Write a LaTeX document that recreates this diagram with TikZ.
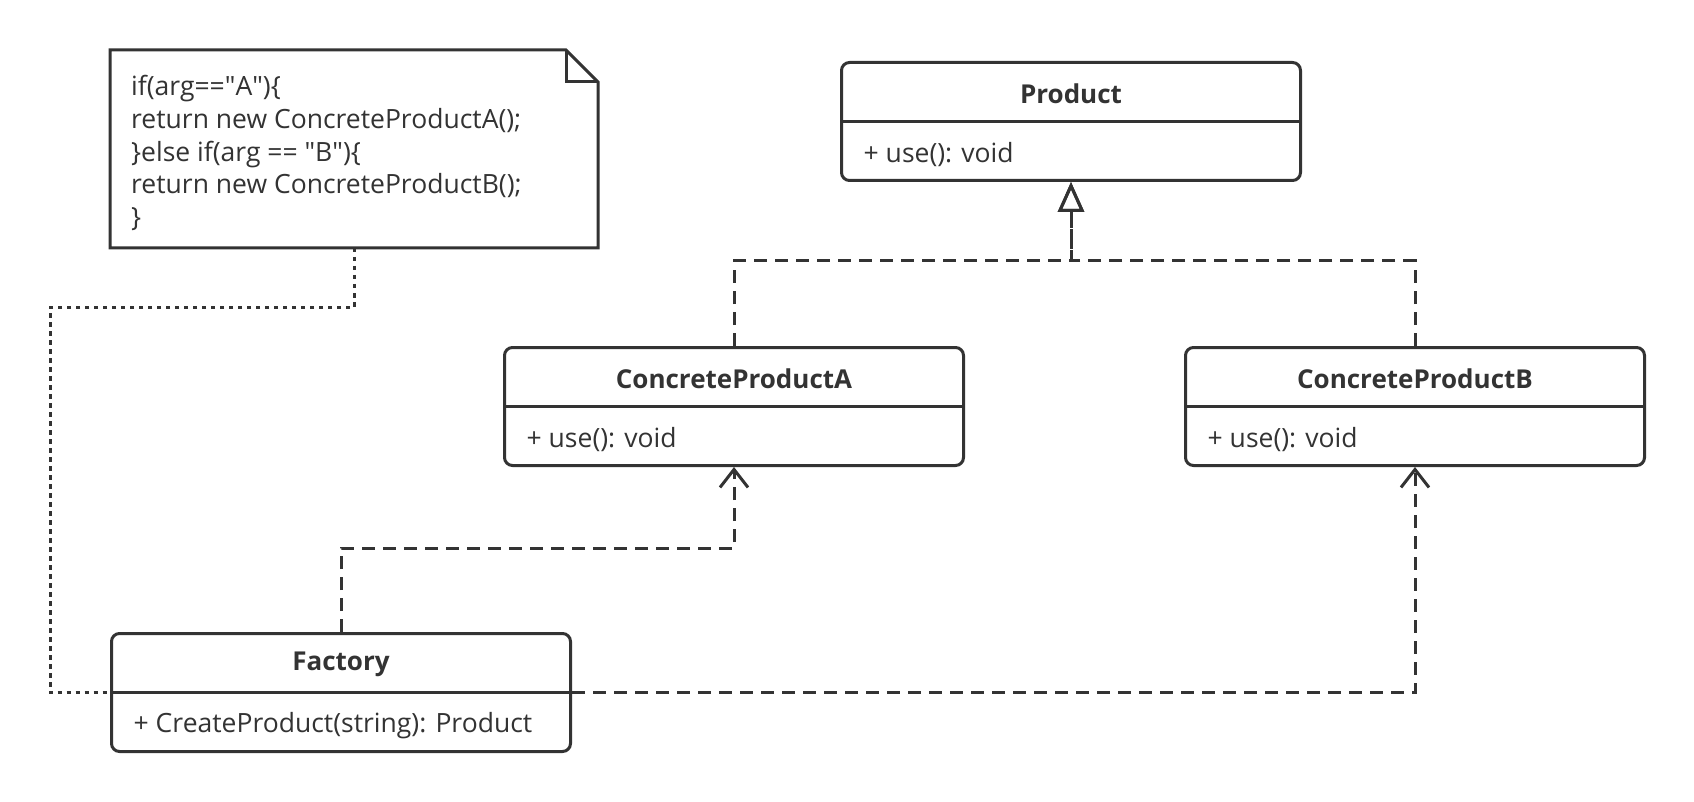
\documentclass[tikz,border=0pt]{standalone}
\usepackage{fontspec}
\setmainfont{Open Sans}
\usetikzlibrary{arrows.meta}
\definecolor{lc}{HTML}{333333}
\begin{document}
\begin{tikzpicture}[x=1pt,y=-1pt,
  cls/.style={draw=lc, line width=3pt, rounded corners=8pt, minimum width=459pt, minimum height=118pt, anchor=north west, inner sep=0pt},
  ttl/.style={font=\fontsize{26}{30}\selectfont\bfseries, text=lc, inner sep=0pt},
  mem/.style={font=\fontsize{26.5}{30}\selectfont, text=lc, anchor=west, inner sep=0pt},
  sepline/.style={draw=lc, line width=3pt},
  dep/.style={draw=lc, line width=3pt, dash pattern=on 13pt off 8pt},
  dotline/.style={draw=lc, line width=3pt, dash pattern=on 4.5pt off 4.5pt},
  openhead/.style={-{Straight Barb[length=18pt,width=28pt,line width=3pt]}},
  realhead/.style={-{Triangle[open,length=30pt,width=26pt,line width=3pt]}},
  notetxt/.style={font=\fontsize{26.5}{32.7}\selectfont, text=lc, align=left, anchor=west, inner sep=0pt}
]
\useasboundingbox[fill=white] (0,0) rectangle (1694,802);

% note
\node[minimum width=488pt, minimum height=198pt, anchor=north west, inner sep=0pt, outer sep=0pt] (note) at (110,50) {};
\draw[sepline, line join=miter] (note.north west) -- ([xshift=-32pt]note.north east) -- ([yshift=-32pt]note.north east) -- (note.south east) -- (note.south west) -- cycle;
\draw[sepline, line join=miter] ([xshift=-32pt]note.north east) -- ([xshift=-32pt,yshift=-32pt]note.north east) -- ([yshift=-32pt]note.north east);
\node[notetxt] (notetext) at (131,153) {if(arg==\textquotedbl A\textquotedbl)\{\\return new ConcreteProductA();\\\}else if(arg == \textquotedbl B\textquotedbl)\{\\return new ConcreteProductB();\\\}};

% classes
\node[cls] (product) at (840,61) {};
\draw[sepline] (product.west) -- (product.east);
\node[ttl] (productT) at ([yshift=-32.5pt]product.north) {Product};
\node[mem] (productM) at ([xshift=23.5pt,yshift=27pt]product.south west) {+ use(): void};

\node[cls] (cpa) at (503,346) {};
\draw[sepline] (cpa.west) -- (cpa.east);
\node[ttl] (cpaT) at ([yshift=-32.5pt]cpa.north) {ConcreteProductA};
\node[mem] (cpaM) at ([xshift=23.5pt,yshift=27pt]cpa.south west) {+ use(): void};

\node[cls] (cpb) at (1184,346) {};
\draw[sepline] (cpb.west) -- (cpb.east);
\node[ttl] (cpbT) at ([yshift=-32.5pt]cpb.north) {ConcreteProductB};
\node[mem] (cpbM) at ([xshift=23.5pt,yshift=27pt]cpb.south west) {+ use(): void};

\node[cls] (factory) at (110,632) {};
\draw[sepline] (factory.west) -- (factory.east);
\node[ttl] (factoryT) at ([yshift=-32.5pt]factory.north) {Factory};
\node[mem] (factoryM) at ([xshift=23.5pt,yshift=27pt]factory.south west) {+ CreateProduct(string): Product};

% connectors
\draw[dep, realhead] (cpa.north) -- ++(0,-85) -| (product.south);
\draw[dep, realhead] (cpb.north) -- ++(0,-85) -| (product.south);
\draw[dep, openhead] (factory.north) -- ++(0,-84) -| (cpa.south);
\draw[dep, openhead] (factory.east) -| (cpb.south);

\coordinate (nb) at (50,307);
\draw[dotline] (note.south) |- (nb) |- (factory.west);
\end{tikzpicture}
\end{document}
